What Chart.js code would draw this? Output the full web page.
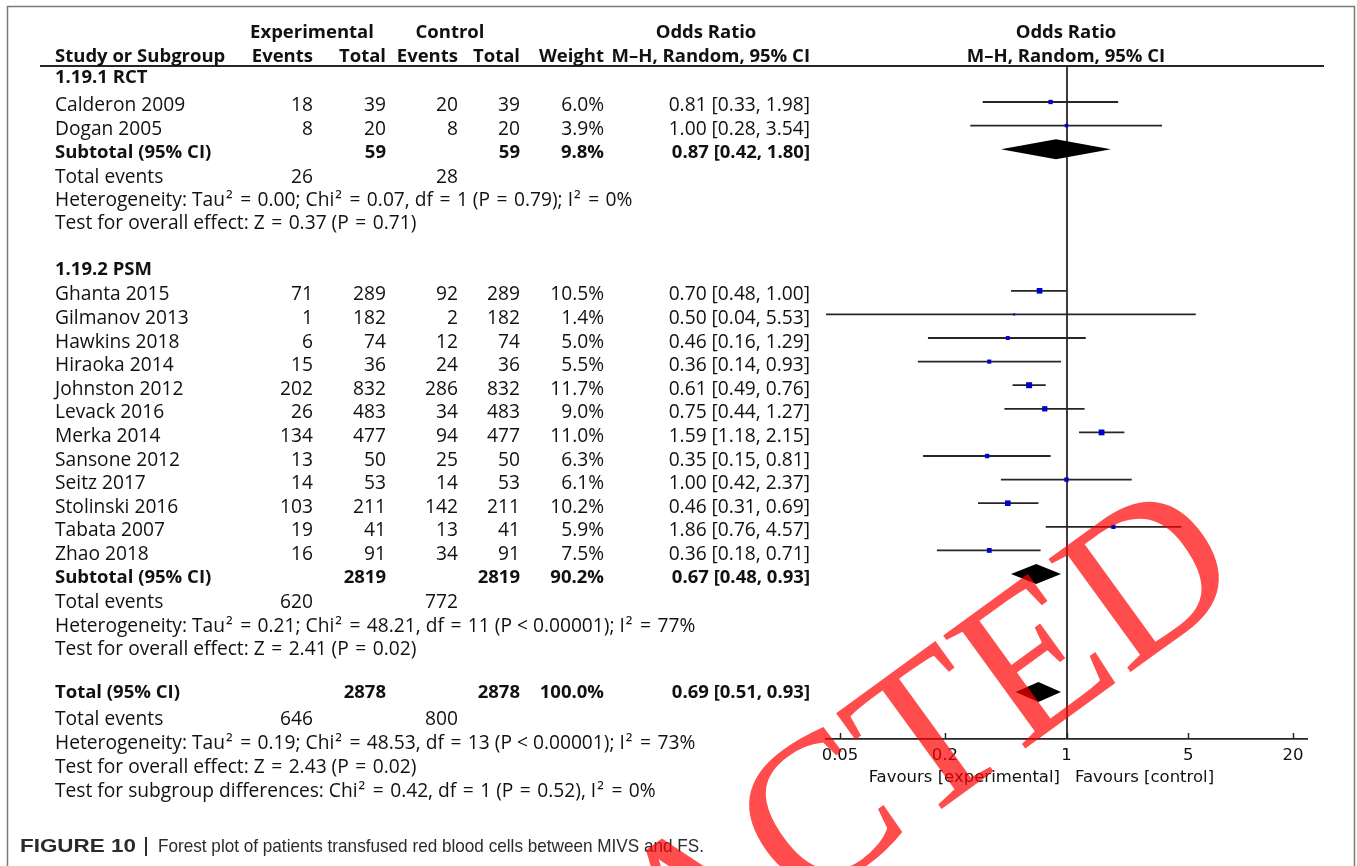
<!DOCTYPE html>
<html><head><meta charset="utf-8">
<script src="https://cdn.jsdelivr.net/npm/chart.js@4/dist/chart.umd.min.js"></script>
<style>html,body{margin:0;padding:0;background:#fff}canvas{display:block}</style>
</head><body>
<canvas id="c" width="1357" height="866"></canvas>
<script>
// ---------- data ----------
const studies   = ['Calderon 2009','Dogan 2005','Ghanta 2015','Gilmanov 2013','Hawkins 2018','Hiraoka 2014','Johnston 2012','Levack 2016','Merka 2014','Sansone 2012','Seitz 2017','Stolinski 2016','Tabata 2007','Zhao 2018'];
const studyRows = [0,1,8,9,10,11,12,13,14,15,16,17,18,19];
const expEvents = [18,8,71,1,6,15,202,26,134,13,14,103,19,16];
const expTotal  = [39,20,289,182,74,36,832,483,477,50,53,211,41,91];
const ctlEvents = [20,8,92,2,12,24,286,34,94,25,14,142,13,34];
const ctlTotal  = [39,20,289,182,74,36,832,483,477,50,53,211,41,91];
const weights   = [6.0,3.9,10.5,1.4,5.0,5.5,11.7,9.0,11.0,6.3,6.1,10.2,5.9,7.5];
const orEst     = [0.81,1.00,0.70,0.50,0.46,0.36,0.61,0.75,1.59,0.35,1.00,0.46,1.86,0.36];
const orLo      = [0.33,0.28,0.48,0.04,0.16,0.14,0.49,0.44,1.18,0.15,0.42,0.31,0.76,0.18];
const orHi      = [1.98,3.54,1.00,5.53,1.29,0.93,0.76,1.27,2.15,0.81,2.37,0.69,4.57,0.71];

const pooledLabels   = ['Subtotal (95% CI)','Subtotal (95% CI)','Total (95% CI)'];
const pooledRows     = [2,20,25];
const pooledExpTotal = [59,2819,2878];
const pooledCtlTotal = [59,2819,2878];
const pooledWeight   = [9.8,90.2,100.0];
const pooledEst      = [0.87,0.67,0.69];
const pooledLo       = [0.42,0.48,0.51];
const pooledHi       = [1.80,0.93,0.93];
const totEvExp       = [26,620,646];
const totEvCtl       = [28,772,800];

const groupLabels = ['1.19.1 RCT','1.19.2 PSM'];
const heteroTexts = [
  'Heterogeneity: Tau\u00b2 = 0.00; Chi\u00b2 = 0.07, df = 1 (P = 0.79); I\u00b2 = 0%',
  'Heterogeneity: Tau\u00b2 = 0.21; Chi\u00b2 = 48.21, df = 11 (P < 0.00001); I\u00b2 = 77%',
  'Heterogeneity: Tau\u00b2 = 0.19; Chi\u00b2 = 48.53, df = 13 (P < 0.00001); I\u00b2 = 73%'];
const effectTexts = [
  'Test for overall effect: Z = 0.37 (P = 0.71)',
  'Test for overall effect: Z = 2.41 (P = 0.02)',
  'Test for overall effect: Z = 2.43 (P = 0.02)'];
const subgroupText = 'Test for subgroup differences: Chi\u00b2 = 0.42, df = 1 (P = 0.52), I\u00b2 = 0%';

const tickValues = [0.05,0.2,1,5,20];
const tickLabels = ['0.05','0.2','1','5','20'];
const favLeft = 'Favours [experimental]';
const favRight = 'Favours [control]';
const caption1 = 'FIGURE 10';
const caption2 = 'Forest plot of patients transfused red blood cells between MIVS and FS.';
const watermark = 'REDACTED';

// ---------- layout ----------
const FONT = '"Open Sans"';
const FS_REG = 19.2, FS_BOLD = 18.5;
const COL = {name:55, expEv:313, expTot:386, ctlEv:458, ctlTot:520, wt:604, or:810};
const ext = Math.pow(10, 14/174.1);
const fmtOR = (e,l,h)=> e.toFixed(2)+' ['+l.toFixed(2)+', '+h.toFixed(2)+']';

// ---------- datasets ----------
const datasets = [];
datasets.push({
  label:'studies', type:'scatter', order:0,
  data: studies.map((s,i)=>({x:orEst[i], y:studyRows[i]})),
  pointStyle:'rect', pointRadius: weights.map(w=>1.24*Math.sqrt(w)),
  backgroundColor:'#0000cc', borderWidth:0
});
studies.forEach((s,i)=>{
  datasets.push({
    type:'line', order:1, showLine:true,
    data:[{x:orLo[i],y:studyRows[i]},{x:orHi[i],y:studyRows[i]}],
    borderColor:'#262626', borderWidth:1.8, pointRadius:0, fill:false
  });
});

// left-aligned text with slightly wider "=" and superscripts, as in the source typeface
function drawRich(ctx, s, x, y){
  const parts = s.split(/(=|\u00b2)/);
  let cx = x;
  ctx.textAlign = 'left';
  for (const p of parts){
    if (!p) continue;
    if (p === '='){ ctx.fillText(p, cx+1.5, y); cx += ctx.measureText(p).width + 3; }
    else if (p === '\u00b2'){ ctx.fillText(p, cx+1, y); cx += ctx.measureText(p).width + 2; }
    else { ctx.fillText(p, cx, y); cx += ctx.measureText(p).width; }
  }
}

const forestPlugin = {
  id:'forest',
  beforeDatasetsDraw(chart){
    const {ctx, chartArea:a, scales:{x}} = chart;
    ctx.save();
    ctx.strokeStyle='#262626'; ctx.lineWidth=1.8;
    const px = Math.round(x.getPixelForValue(1));
    ctx.beginPath(); ctx.moveTo(px, a.top); ctx.lineTo(px, a.bottom); ctx.stroke();
    ctx.restore();
  },
  afterDatasetsDraw(chart){
    const {ctx, scales:{x,y}} = chart;
    ctx.save();
    ctx.fillStyle='#000';
    pooledRows.forEach((r,i)=>{
      const cy = y.getPixelForValue(r), h=10;
      ctx.beginPath();
      ctx.moveTo(x.getPixelForValue(pooledLo[i]), cy);
      ctx.lineTo(x.getPixelForValue(pooledEst[i]), cy-h);
      ctx.lineTo(x.getPixelForValue(pooledHi[i]), cy);
      ctx.lineTo(x.getPixelForValue(pooledEst[i]), cy+h);
      ctx.closePath(); ctx.fill();
    });
    ctx.restore();
  },
  afterDraw(chart){
    const {ctx, chartArea:a, scales:{x,y}} = chart;
    ctx.save();
    // frame
    ctx.strokeStyle='#7a7a7a'; ctx.lineWidth=1.5;
    ctx.beginPath(); ctx.moveTo(7.5,866); ctx.lineTo(7.5,6.5); ctx.lineTo(1354.5,6.5); ctx.lineTo(1354.5,866); ctx.stroke();
    // header rule
    ctx.strokeStyle='#262626'; ctx.lineWidth=2;
    ctx.beginPath(); ctx.moveTo(40,66); ctx.lineTo(1324,66); ctx.stroke();
    // tick marks (upward)
    ctx.lineWidth=1.5;
    x.ticks.forEach(t=>{
      const px = Math.round(x.getPixelForValue(t.value))+0.5;
      ctx.beginPath(); ctx.moveTo(px, a.bottom); ctx.lineTo(px, a.bottom-6); ctx.stroke();
    });
    // favours
    ctx.fillStyle='#111';
    ctx.font='16.5px "DejaVu Sans"';
    ctx.textBaseline='alphabetic';
    ctx.textAlign='right'; ctx.fillText(favLeft, 1060, 782);
    ctx.textAlign='left'; ctx.fillText(favRight, 1075, 782);

    // table text
    const Y = idx => y.getPixelForValue(idx) + 9.5;
    const setF = bold => { ctx.font = (bold?'bold '+FS_BOLD:FS_REG) + 'px ' + FONT; };
    const T = (s, px, idx, align, bold) => {
      setF(bold); ctx.textAlign = align; ctx.fillText(String(s), px, Y(idx));
    };
    const R = (s, idx) => { setF(false); drawRich(ctx, s, COL.name, Y(idx)); };
    ctx.fillStyle='#111';
    // header
    T('Experimental', 312, -3.12, 'center', true);
    T('Control', 450, -3.12, 'center', true);
    T('Odds Ratio', 706, -3.12, 'center', true);
    T('Odds Ratio', 1066, -3.12, 'center', true);
    T('Study or Subgroup', COL.name, -2.08, 'left', true);
    T('Events', COL.expEv, -2.08, 'right', true);
    T('Total', COL.expTot, -2.08, 'right', true);
    T('Events', COL.ctlEv, -2.08, 'right', true);
    T('Total', COL.ctlTot, -2.08, 'right', true);
    T('Weight', COL.wt, -2.08, 'right', true);
    T('M\u2013H, Random, 95% CI', COL.or, -2.08, 'right', true);
    T('M\u2013H, Random, 95% CI', 1066, -2.08, 'center', true);
    // groups
    T(groupLabels[0], COL.name, -1.2, 'left', true);
    T(groupLabels[1], COL.name, 6.93, 'left', true);
    // studies
    studies.forEach((s,i)=>{
      const r = studyRows[i];
      T(s, COL.name, r, 'left', false);
      T(expEvents[i], COL.expEv, r, 'right', false);
      T(expTotal[i], COL.expTot, r, 'right', false);
      T(ctlEvents[i], COL.ctlEv, r, 'right', false);
      T(ctlTotal[i], COL.ctlTot, r, 'right', false);
      T(weights[i].toFixed(1)+'%', COL.wt, r, 'right', false);
      T(fmtOR(orEst[i],orLo[i],orHi[i]), COL.or, r, 'right', false);
    });
    // pooled
    const pooledText = [1.95, 19.98, 24.85];
    const follow = [[3.02,4.0,4.98],[21.05,22.05,23.03],[26.0,27.02,28.03]];
    pooledRows.forEach((r,i)=>{
      const tr = pooledText[i];
      T(pooledLabels[i], COL.name, tr, 'left', true);
      T(pooledExpTotal[i], COL.expTot, tr, 'right', true);
      T(pooledCtlTotal[i], COL.ctlTot, tr, 'right', true);
      T(pooledWeight[i].toFixed(1)+'%', COL.wt, tr, 'right', true);
      T(fmtOR(pooledEst[i],pooledLo[i],pooledHi[i]), COL.or, tr, 'right', true);
      T('Total events', COL.name, follow[i][0], 'left', false);
      T(totEvExp[i], COL.expEv, follow[i][0], 'right', false);
      T(totEvCtl[i], COL.ctlEv, follow[i][0], 'right', false);
      R(heteroTexts[i], follow[i][1]);
      R(effectTexts[i], follow[i][2]);
    });
    R(subgroupText, 29.05);

    // caption
    ctx.fillStyle='#2b2b2b';
    ctx.textAlign='left';
    ctx.save();
    ctx.translate(20, 852); ctx.scale(1.18, 1);
    ctx.font='bold 19px "Liberation Sans"';
    ctx.fillText(caption1, 0, 0);
    ctx.restore();
    ctx.fillRect(145, 837, 2, 19);
    ctx.font='19px "Liberation Sans"';
    ctx.fillText(caption2, 158, 852, 546);

    // watermark
    ctx.translate(1250,585);
    ctx.rotate(-36*Math.PI/180);
    ctx.font='213px "Liberation Serif"';
    ctx.textAlign='right'; ctx.textBaseline='alphabetic';
    ctx.fillStyle='rgba(255,0,0,0.7)';
    ctx.fillText(watermark,0,0);
    ctx.restore();
  }
};

new Chart(document.getElementById('c'), {
  type:'scatter',
  data:{datasets},
  options:{
    responsive:false, animation:false, events:[],
    layout:{padding:{left:826, right:50, top:66, bottom:97}},
    plugins:{legend:{display:false}, tooltip:{enabled:false}},
    scales:{
      x:{
        type:'logarithmic', position:'bottom',
        min:0.05/ext, max:20*ext,
        afterBuildTicks: s => { s.ticks = tickValues.map(v=>({value:v})); },
        afterFit: s => { s.height = 30; },
        grid:{display:false, drawTicks:false},
        border:{display:true, color:'#262626', width:1.8},
        ticks:{
          autoSkip:false, maxRotation:0, padding:7, color:'#111',
          font:{family:'DejaVu Sans', size:16.5},
          callback:(v,i)=>tickLabels[i]
        }
      },
      y:{type:'linear', display:false, reverse:true, min:-1.525, max:26.99}
    }
  },
  plugins:[forestPlugin]
});
</script>
</body></html>
